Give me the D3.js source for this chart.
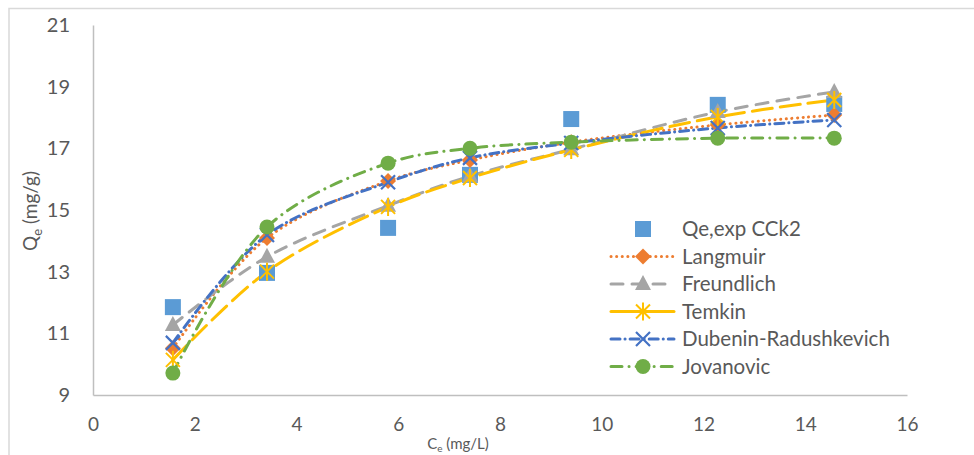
<!DOCTYPE html>
<html>
<head>
<meta charset="utf-8">
<script src="https://cdn.jsdelivr.net/npm/d3@7"></script>
<style>
  body { margin: 0; background: #fff; }
  text { font-family: Lato, "Liberation Sans", sans-serif; fill: #595959; }
</style>
</head>
<body>
<div id="chart"></div>
<script>
// data
var ce = [1.57, 3.42, 5.80, 7.41, 9.40, 12.28, 14.57];
var qeExp = [11.85, 12.96, 14.42, 16.14, 17.95, 18.41, 18.44];
var langmuir = [10.52, 14.09, 15.94, 16.62, 17.20, 17.76, 18.08];
var freundlich = [11.27, 13.48, 15.14, 16.10, 16.97, 18.18, 18.83];
var temkin = [10.14, 13.00, 15.10, 16.04, 16.95, 18.02, 18.57];
var dubenin = [10.69, 14.19, 15.90, 16.69, 17.17, 17.66, 17.92];
var jovanovic = [9.71, 14.45, 16.52, 17.00, 17.20, 17.33, 17.33];
var xTicks = [0, 2, 4, 6, 8, 10, 12, 14, 16];
var yTicks = [9, 11, 13, 15, 17, 19, 21];

var series = [
  {name: "Qe,exp CCk2", values: qeExp, color: "#5B9BD5", dash: null, marker: "square", line: false},
  {name: "Langmuir", values: langmuir, color: "#ED7D31", dash: "0.1 5.5", marker: "diamond", line: true},
  {name: "Freundlich", values: freundlich, color: "#A5A5A5", dash: "12 9", marker: "triangle", line: true},
  {name: "Temkin", values: temkin, color: "#FFC000", dash: "20 8", marker: "star", line: true},
  {name: "Dubenin-Radushkevich", values: dubenin, color: "#4472C4", dash: "9 5 0.1 5", marker: "x", line: true},
  {name: "Jovanovic", values: jovanovic, color: "#70AD47", dash: "11 7 0.1 7", marker: "circle", line: true}
];

var W = 974, H = 455;
var margin = {top: 25, right: 67, bottom: 60, left: 93},
    width = W - margin.left - margin.right,
    height = H - margin.top - margin.bottom;

var root = d3.select("#chart").append("svg")
    .attr("width", W)
    .attr("height", H);

// outer chart frame (only top and left edges are visible in the crop)
root.append("path")
    .attr("d", "M9,455 L9,8.5 L974,8.5")
    .attr("fill", "none")
    .attr("stroke", "#d9d9d9")
    .attr("stroke-width", 1.5);

var svg = root.append("g")
    .attr("transform", "translate(" + margin.left + "," + margin.top + ")");

var x = d3.scaleLinear().domain([0, 16]).range([0, width]);
var y = d3.scaleLinear().domain([9, 21]).range([height, 0]);

// X axis
var xAxis = svg.append("g")
    .attr("transform", "translate(0," + height + ")")
    .call(d3.axisBottom(x).tickValues(xTicks).tickSize(0).tickPadding(30));
xAxis.select(".domain").attr("stroke", "#bfbfbf").attr("stroke-width", 1.5);
xAxis.selectAll("text").style("font-size", "19px").attr("dy", "0.32em")
    .style("font-family", "Lato, sans-serif").attr("fill", "#595959");

// Y axis
var yAxis = svg.append("g")
    .call(d3.axisLeft(y).tickValues(yTicks).tickSize(0).tickPadding(23));
yAxis.select(".domain").attr("stroke", "#bfbfbf").attr("stroke-width", 1.5);
yAxis.selectAll("text").style("font-size", "20px")
    .style("font-family", "Lato, sans-serif").attr("fill", "#595959");

// axis titles
var xt = root.append("text")
    .attr("x", 458)
    .attr("y", 449)
    .attr("text-anchor", "middle")
    .style("font-size", "15px");
xt.append("tspan").text("C");
xt.append("tspan").attr("dy", 3).style("font-size", "10px").text("e");
xt.append("tspan").attr("dy", -3).text(" (mg/L)");

var yt = root.append("text")
    .attr("transform", "translate(37,211) rotate(-90)")
    .attr("text-anchor", "middle")
    .style("font-size", "19px");
yt.append("tspan").text("Q");
yt.append("tspan").attr("dy", 5).style("font-size", "13px").text("e");
yt.append("tspan").attr("dy", -5).text(" (mg/g)");

function drawMarker(g, kind, color) {
  if (kind === "square") {
    g.append("rect").attr("x", -8).attr("y", -8).attr("width", 16).attr("height", 16).attr("fill", color);
  } else if (kind === "diamond") {
    g.append("path").attr("d", "M0,-8 L8,0 L0,8 L-8,0 Z").attr("fill", color);
  } else if (kind === "triangle") {
    g.append("path").attr("d", "M0,-9 L8,6 L-8,6 Z").attr("fill", color);
  } else if (kind === "star") {
    g.append("path").attr("d", "M-7,-7 L7,7 M-7,7 L7,-7 M0,-9 L0,9")
      .attr("stroke", color).attr("stroke-width", 2).attr("fill", "none");
  } else if (kind === "x") {
    g.append("path").attr("d", "M-7,-7 L7,7 M-7,7 L7,-7")
      .attr("stroke", color).attr("stroke-width", 2.2).attr("fill", "none");
  } else if (kind === "circle") {
    g.append("circle").attr("r", 7.5).attr("fill", color);
  }
}

var line = d3.line()
    .x(function(d, i) { return x(ce[i]); })
    .y(function(d) { return y(d); })
    .curve(d3.curveCatmullRom.alpha(0.5));

// lines first, then markers
series.forEach(function(s) {
  if (!s.line) return;
  svg.append("path")
      .datum(s.values)
      .attr("d", line)
      .attr("fill", "none")
      .attr("stroke", s.color)
      .attr("stroke-width", 3)
      .attr("stroke-linecap", "round")
      .attr("stroke-dasharray", s.dash);
});

series.forEach(function(s) {
  svg.append("g")
    .selectAll("g")
    .data(s.values)
    .enter()
    .append("g")
      .attr("transform", function(d, i) { return "translate(" + x(ce[i]) + "," + y(d) + ")"; })
      .each(function() { drawMarker(d3.select(this), s.marker, s.color); });
});

// legend
var legend = root.append("g").attr("transform", "translate(0,229)");
series.forEach(function(s, i) {
  var row = legend.append("g").attr("transform", "translate(0," + (i * 27.5) + ")");
  if (s.line) {
    row.append("line")
        .attr("x1", 611).attr("x2", 674).attr("y1", 0).attr("y2", 0)
        .attr("stroke", s.color)
        .attr("stroke-width", 3)
        .attr("stroke-linecap", "round")
        .attr("stroke-dasharray", s.name === "Temkin" ? null : s.dash);
  }
  drawMarker(row.append("g").attr("transform", "translate(643,0)"), s.marker, s.color);
  row.append("text")
      .attr("x", 682)
      .attr("y", 0)
      .attr("dy", "0.35em")
      .style("font-size", "20.5px")
      .text(s.name);
});
</script>
</body>
</html>
